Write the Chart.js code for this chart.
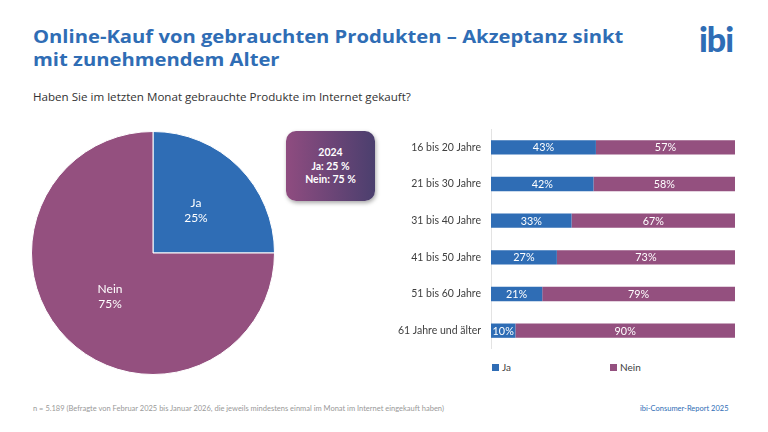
<!DOCTYPE html>
<html>
<head>
<meta charset="utf-8">
<script src="https://cdn.jsdelivr.net/npm/chart.js@4"></script>
<style>
  body { margin: 0; width: 768px; height: 432px; overflow: hidden; background: #fff; font-family: Lato, 'Noto Sans', sans-serif; position: relative; }
  .abs { position: absolute; }
  #title { left: 33px; top: 25px; color: #2f6db5; font-family: 'Open Sans', sans-serif; font-weight: bold; font-size: 17.5px; line-height: 22.5px; white-space: nowrap; transform-origin: 0 0; }
  #question { left: 33px; top: 89px; color: #333; font-family: 'Open Sans', sans-serif; font-size: 11.6px; }
  #logo { left: 699px; top: 18px; color: #2f6db5; font-weight: 900; font-size: 34px; letter-spacing: -1px; }
  #box { left: 286px; top: 131px; width: 89px; height: 70px; border-radius: 10px; background: linear-gradient(90deg, #8f4c80, #4b3f6e); box-shadow: 1px 2px 4px rgba(0,0,0,0.35); color: #fff; font-weight: bold; font-size: 10.5px; text-align: center; line-height: 13.5px; box-sizing: border-box; padding-top: 15px; }
  #pie { left: 31px; top: 131px; }
  #bars { left: 360px; top: 125px; }
  .leg { top: 361px; font-size: 10px; color: #404040; }
  .leg span { display: inline-block; width: 7px; height: 7px; margin-right: 3px; }
  #foot { left: 33px; top: 404px; font-size: 7.5px; color: #999; }
  #report { left: 640px; top: 404px; font-size: 7.5px; color: #2f6db5; }
</style>
</head>
<body>
<div id="title" class="abs">Online-Kauf von gebrauchten Produkten – Akzeptanz sinkt<br>mit zunehmendem Alter</div>
<div id="logo" class="abs">ibi</div>
<div id="question" class="abs">Haben Sie im letzten Monat gebrauchte Produkte im Internet gekauft?</div>
<canvas id="pie" class="abs" width="244" height="244"></canvas>
<div id="box" class="abs">2024<br>Ja: 25 %<br>Nein: 75 %</div>
<canvas id="bars" class="abs" width="385" height="224"></canvas>
<div class="abs leg" style="left:492px"><span style="background:#2f6db5"></span>Ja</div>
<div class="abs leg" style="left:610px"><span style="background:#94507f"></span>Nein</div>
<div id="foot" class="abs">n = 5.189 (Befragte von Februar 2025 bis Januar 2026, die jeweils mindestens einmal im Monat im Internet eingekauft haben)</div>
<div id="report" class="abs">ibi-Consumer-Report 2025</div>
<script>
const blue = '#2f6db5'
const purple = '#94507f'

// pie: gesamt
const pieLabels = ['Ja', 'Nein']
const pieValues = [25, 75]

// bars: nach Alter
const ageGroups = ['16 bis 20 Jahre', '21 bis 30 Jahre', '31 bis 40 Jahre', '41 bis 50 Jahre', '51 bis 60 Jahre', '61 Jahre und älter']
const jaValues = [43, 42, 33, 27, 21, 10]
const neinValues = [57, 58, 67, 73, 79, 90]

const font = 'Lato, "Noto Sans", sans-serif'

// stretch title to the reference width
const title = document.querySelector('#title')
title.style.transform = 'scaleX(' + (590 / title.offsetWidth) + ')'

const pieLabelPlugin = {
  id: 'pieLabels',
  afterDatasetsDraw(chart) {
    const ctx = chart.ctx
    const meta = chart.getDatasetMeta(0)
    ctx.save()
    ctx.fillStyle = '#fff'
    ctx.font = '12px ' + font
    ctx.textAlign = 'center'
    ctx.textBaseline = 'middle'
    meta.data.forEach((arc, i) => {
      const p = arc.tooltipPosition()
      ctx.fillText(pieLabels[i], p.x, p.y - 7)
      ctx.fillText(pieValues[i] + '%', p.x, p.y + 8)
    })
    ctx.restore()
  },
}

new Chart('pie', {
  type: 'pie',
  data: {
    labels: pieLabels,
    datasets: [{ data: pieValues, backgroundColor: [blue, purple], borderColor: '#fff', borderWidth: 1 }],
  },
  options: {
    responsive: false,
    animation: false,
    plugins: { legend: { display: false }, tooltip: { enabled: false } },
  },
  plugins: [pieLabelPlugin],
})

const barLabelPlugin = {
  id: 'barLabels',
  afterDatasetsDraw(chart) {
    const ctx = chart.ctx
    ctx.save()
    ctx.fillStyle = '#fff'
    ctx.font = '10.8px ' + font
    ctx.textAlign = 'center'
    ctx.textBaseline = 'middle'
    chart.data.datasets.forEach((ds, di) => {
      chart.getDatasetMeta(di).data.forEach((bar, i) => {
        const x = (bar.x + bar.base) / 2
        ctx.fillText(ds.data[i] + '%', x, bar.y + 0.5)
      })
    })
    ctx.restore()
  },
}

new Chart('bars', {
  type: 'bar',
  data: {
    labels: ageGroups,
    datasets: [
      { label: 'Ja', data: jaValues, backgroundColor: blue, barPercentage: 0.39, categoryPercentage: 1 },
      { label: 'Nein', data: neinValues, backgroundColor: purple, barPercentage: 0.39, categoryPercentage: 1 },
    ],
  },
  options: {
    indexAxis: 'y',
    responsive: false,
    animation: false,
    layout: { padding: { top: 4, right: 10, bottom: 0, left: 0 } },
    plugins: { legend: { display: false }, tooltip: { enabled: false } },
    scales: {
      x: { stacked: true, min: 0, max: 100, display: false },
      y: {
        stacked: true,
        grid: { display: false, drawTicks: false },
        border: { color: '#e3e3e3' },
        ticks: { color: '#404040', font: { family: font, size: 10.5 }, padding: 10 },
        afterFit(scale) {
          scale.width = 131
          scale.paddingTop = 0
          scale.paddingBottom = 0
        },
      },
    },
  },
  plugins: [barLabelPlugin],
})
</script>
</body>
</html>
